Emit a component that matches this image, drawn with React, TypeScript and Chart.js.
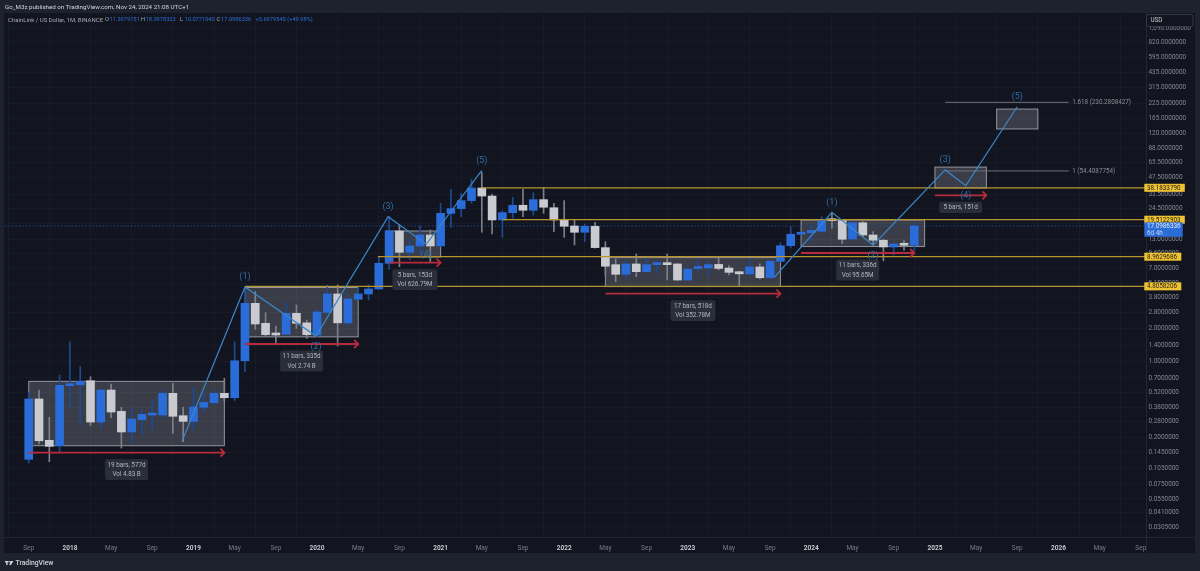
import { useEffect, useRef } from "react";
import { Chart, registerables } from "chart.js";

Chart.register(...registerables);

// monthly candles, first bar is Sep 2017
const opens = [
  0.1265, 0.45, 0.1887, 0.1684, 0.595, 0.607, 0.661, 0.277, 0.543, 0.347, 0.2247, 0.291, 0.321, 0.321, 0.507, 0.3165,
  0.281, 0.378, 0.416, 0.507, 0.462, 1.006, 3.364, 2.21, 1.765, 1.755, 2.727, 2.23, 1.728, 2.78, 4.094, 2.23, 3.66,
  4.094, 4.548, 7.8, 15.4, 9.83, 11.23, 14.15, 11.23, 22.3, 24.63, 29.15, 38, 32.1, 19.41, 22.64, 26.44, 23.8, 29.76,
  25.1, 19.41, 17.1, 14.98, 17.0, 10.85, 7.58, 6.19, 7.695, 6.54, 7.58, 7.83, 7.695, 5.49, 6.99, 7.1, 7.62, 7.06, 6.54,
  6.24, 7.23, 5.76, 8.12, 11.3, 14.37, 14.87, 15.3, 19.41, 19.12, 13.0, 18.3, 14.15, 12.67, 11.0, 11.75, 11.3979151,
];
const highs = [
  0.521, 0.543, 0.3057, 0.7446, 1.5, 0.887, 0.719, 0.55, 0.616, 0.378, 0.37, 0.362, 0.44, 0.535, 0.625, 0.378, 0.575,
  0.524, 0.543, 0.695, 1.5, 4.74, 4.296, 2.763, 2.088, 3.41, 3.247, 2.369, 2.966, 4.944, 4.944, 4.006, 4.74, 4.944,
  8.86, 20.8, 17.47, 12.93, 17.11, 15.72, 27.56, 37, 34, 45.7, 52.8, 33.5, 23.6, 31.27, 37, 34.46, 38.6, 27.56, 29.15,
  19.41, 17.84, 18.5, 12.3, 8.55, 8.25, 9.49, 8.49, 8.25, 9.49, 7.75, 7.18, 8.37, 8.25, 8.86, 7.44, 6.6, 8.49, 7.7,
  8.37, 12.05, 16.87, 15.15, 17.47, 20.8, 22.3, 19.41, 18.75, 18.75, 15.17, 12.93, 11.9, 12.55, 18.3978323,
];
const lows = [
  0.117, 0.1745, 0.1203, 0.1454, 0.3644, 0.2565, 0.2565, 0.239, 0.3035, 0.1604, 0.1745, 0.2108, 0.234, 0.295, 0.2185,
  0.183, 0.234, 0.335, 0.394, 0.425, 0.437, 0.798, 1.948, 1.668, 1.47, 1.74, 1.989, 1.611, 1.668, 2.75, 1.371, 2.088,
  3.607, 3.607, 4.5, 6.88, 7.27, 8.37, 9.29, 7.91, 11.05, 16.66, 20.8, 27.56, 14.98, 14.46, 13.48, 20.1, 20.8, 21.56,
  22.3, 15.17, 13.48, 11.47, 12.3, 10.7, 6.1, 5.3, 5.69, 5.89, 6.44, 6.39, 5.49, 5.42, 5.4, 6.39, 5.81, 6.78, 6.1, 4.8,
  5.98, 5.63, 5.69, 8.03, 10.76, 14.15, 12.3, 15.17, 16.3, 11.82, 12.93, 13.63, 11.47, 8.2, 9.3, 10.3, 10.077104,
];
const closes = [
  0.45, 0.187, 0.1663, 0.5997, 0.6206, 0.652, 0.277, 0.543, 0.342, 0.2247, 0.295, 0.3255, 0.328, 0.507, 0.3126, 0.281,
  0.38, 0.419, 0.507, 0.462, 1.006, 3.364, 2.178, 1.741, 1.728, 2.727, 2.21, 1.741, 2.804, 4.094, 2.23, 3.685, 4.094,
  4.548, 7.8, 15.4, 9.83, 11.23, 14.15, 11.23, 22.3, 24.63, 29.15, 38, 32.1, 19.41, 22.64, 26.44, 23.8, 29.76, 25.36,
  19.41, 17.0, 14.98, 17.0, 10.85, 7.33, 6.19, 7.695, 6.54, 7.58, 7.8, 7.58, 5.49, 6.88, 7.18, 7.58, 7.0, 6.45, 6.25,
  7.23, 5.76, 8.12, 11.3, 14.37, 14.87, 15.55, 19.12, 19.12, 12.93, 18.3, 14.15, 12.67, 11.0, 11.7, 11.4, 17.0986336,
];

const priceTicks = [
  1090, 820, 595, 435, 315, 225, 165, 120, 88, 65.5, 47.5, 33.5, 24.5, 18, 13, 9.6, 7, 5.1, 3.8, 2.8, 2, 1.4, 1, 0.7,
  0.52, 0.38, 0.28, 0.2, 0.145, 0.105, 0.075, 0.055, 0.041, 0.0305,
];
const timeTicks = [0, 4, 8, 12, 16, 20, 24, 28, 32, 36, 40, 44, 48, 52, 56, 60, 64, 68, 72, 76, 80, 84, 88, 92, 96, 100, 104, 108];
const timeLabels = [
  "Sep", "2018", "May", "Sep", "2019", "May", "Sep", "2020", "May", "Sep", "2021", "May", "Sep", "2022", "May", "Sep",
  "2023", "May", "Sep", "2024", "May", "Sep", "2025", "May", "Sep", "2026", "May", "Sep",
];

// elliott wave drawings (bar index, price)
const waveBarsA = [14.9, 21, 27.9, 34.9, 38.6, 44];
const wavePricesA = [0.1859, 4.74, 1.69, 20.8, 11.64, 55];
const waveBarsB = [72.4, 78, 82, 89, 91, 96];
const wavePricesB = [5.81, 22.8, 11.4, 55.6, 39.9, 210];

// yellow support / resistance levels: [from bar, price]
const levelBars = [44, 46, 33.9, 21];
const levelPrices = [38.183379, 19.5122903, 8.9629686, 4.8058206];
const levelTexts = ["38.1833790", "19.5122903", "8.9629686", "4.8058206"];

// fib lines on the right
const fibBars = [89, 101];
const fibPrices = [230.2808427, 54.4087754];
const fibTexts = ["1.618 (230.2808427)", "1 (54.4087754)"];

// [start bar, end bar, top price, bottom price]
const boxes = [
  [0, 19, 0.652, 0.1684],
  [21, 32, 4.69, 1.66],
  [34.7, 40, 15.4, 8.9],
  [56, 73, 8.8, 4.78],
  [75, 87, 19.4, 11.1],
  [88, 93, 59, 38],
  [94, 98, 200, 131.5],
];
// [start bar, end bar, price]
const arrows = [
  [0, 19, 0.1454],
  [21, 32, 1.43],
  [35, 40, 7.9],
  [56, 73, 4.12],
  [75, 86, 9.69],
  [88, 93, 32.6],
];
const arrowTexts = [
  ["19 bars, 577d", "Vol 4.83 B"],
  ["11 bars, 335d", "Vol 2.74 B"],
  ["5 bars, 153d", "Vol 626.79M"],
  ["17 bars, 518d", "Vol 352.78M"],
  ["11 bars, 336d", "Vol 95.65M"],
  ["5 bars, 151d"],
];

const UP = "#2a6dd9";
const DOWN = "#c9cbd0";
const FONT = "Roboto";

const lastPrice = closes[closes.length - 1];

function candle(i: number, a: number, b: number) {
  return { x: i, y: [Math.min(a, b), Math.max(a, b)] };
}

const upIdx = closes.map((c, i) => (c >= opens[i] ? i : -1)).filter(i => i >= 0);
const downIdx = closes.map((c, i) => (c < opens[i] ? i : -1)).filter(i => i >= 0);

const overlay = {
  id: "overlay",
  beforeDraw(chart: any) {
    const c = chart.ctx;
    c.save();
    c.fillStyle = "#1e222d";
    c.fillRect(0, 0, 1200, 571);
    c.fillStyle = "#12151f";
    c.fillRect(4, 13, 1191, 540);
    c.restore();
  },
  beforeDatasetsDraw(chart: any) {
    const { x, y } = chart.scales;
    const c = chart.ctx;
    c.save();
    boxes.forEach(b => {
      const l = x.getPixelForValue(b[0]);
      const r = x.getPixelForValue(b[1]);
      const t = y.getPixelForValue(b[2]);
      const h = y.getPixelForValue(b[3]) - t;
      c.fillStyle = "rgba(200,205,215,0.22)";
      c.fillRect(l, t, r - l, h);
      c.strokeStyle = "rgba(205,208,215,0.65)";
      c.lineWidth = 1;
      c.strokeRect(l, t, r - l, h);
    });
    c.restore();
  },
  afterDatasetsDraw(chart: any) {
    const { x, y } = chart.scales;
    const c = chart.ctx;
    c.save();

    // red range arrows with their little tags
    arrows.forEach((a, i) => {
      const l = x.getPixelForValue(a[0]);
      const r = x.getPixelForValue(a[1]);
      const py = y.getPixelForValue(a[2]);
      c.strokeStyle = "#b82a3c";
      c.lineWidth = 1.8;
      c.beginPath();
      c.moveTo(l, py);
      c.lineTo(r, py);
      c.moveTo(r - 4, py - 4);
      c.lineTo(r, py);
      c.lineTo(r - 4, py + 4);
      c.stroke();

      const lines = arrowTexts[i];
      const cx = (l + r) / 2;
      const w = lines.length > 1 && lines[1].length > 10 ? 45 : 43;
      const h = lines.length * 9.7 + 1.5;
      c.fillStyle = "#2a2e39";
      c.beginPath();
      c.roundRect(cx - w / 2, py + 6.5, w, h, 2);
      c.fill();
      c.fillStyle = "#b2b5be";
      c.font = `6.3px ${FONT}`;
      c.textAlign = "center";
      c.textBaseline = "middle";
      lines.forEach((t, k) => c.fillText(t, cx, py + 12.5 + k * 9.7));
    });

    // wave counts
    c.font = `9px ${FONT}`;
    c.fillStyle = "#2f6ea6";
    c.textAlign = "center";
    c.textBaseline = "middle";
    [[waveBarsA, wavePricesA], [waveBarsB, wavePricesB]].forEach(w => {
      for (let i = 1; i < 6; i++) {
        const dy = i % 2 ? -10 : 10.5;
        c.fillText(`(${i})`, x.getPixelForValue(w[0][i]), y.getPixelForValue(w[1][i]) + dy);
      }
    });

    // fib texts
    c.font = `6.3px ${FONT}`;
    c.fillStyle = "#8a8d96";
    c.textAlign = "left";
    fibTexts.forEach((t, i) => {
      c.fillText(t, x.getPixelForValue(fibBars[1]) + 3.5, y.getPixelForValue(fibPrices[i]));
    });
    c.restore();
  },
  afterDraw(chart: any) {
    const { y } = chart.scales;
    const c = chart.ctx;
    c.save();

    // separators of the price and time scale
    c.strokeStyle = "#232732";
    c.lineWidth = 1;
    c.beginPath();
    c.moveTo(1146.5, 13);
    c.lineTo(1146.5, 553);
    c.moveTo(4, 537.5);
    c.lineTo(1195, 537.5);
    c.stroke();

    // level tags on the price scale
    c.font = `6.3px ${FONT}`;
    c.textBaseline = "middle";
    c.textAlign = "left";
    levelPrices.forEach((p, i) => {
      const py = y.getPixelForValue(p);
      const w = levelTexts[i].length > 9 ? 40.5 : 37;
      c.fillStyle = "#eec232";
      c.fillRect(1144.3, py - 4, w, 8);
      c.fillStyle = "#26221a";
      c.fillText(levelTexts[i], 1147, py + 0.3);
    });

    // last price tag
    c.fillStyle = "#2a6dd9";
    c.fillRect(1144.3, 222.3, 38.4, 14.4);
    c.fillStyle = "#e6ecf8";
    c.fillText(lastPrice.toFixed(7), 1147, y.getPixelForValue(lastPrice) + 0.3);
    c.fillStyle = "#c5d5f0";
    c.fillText("6d 4h", 1147, 233);

    // currency button
    c.fillStyle = "#12151f";
    c.strokeStyle = "#363a45";
    c.beginPath();
    c.roundRect(1146.5, 14.5, 46.5, 12, 2);
    c.fill();
    c.stroke();
    c.fillStyle = "#c8cad0";
    c.fillText("USD", 1150.5, 20.5);

    // header
    c.fillStyle = "#d1d4dc";
    c.font = `6.2px ${FONT}`;
    c.fillText("Go_M3z published on TradingView.com, Nov 24, 2024 21:08 UTC+1", 5, 7);

    // legend row
    c.fillStyle = "#a6a9b2";
    c.font = `6px ${FONT}`;
    c.fillText("ChainLink / US Dollar, 1M, BINANCE", 8, 20);
    c.font = `5.7px ${FONT}`;
    const legend: [string, string, number][] = [
      ["O", "11.3979151", 105],
      ["H", "18.3978323", 141],
      ["L", "10.0771040", 180],
      ["C", "17.0986336", 216.5],
    ];
    legend.forEach(([k, v, px]) => {
      c.fillStyle = "#a6a9b2";
      c.fillText(k, px, 20);
      c.fillStyle = "#2a6dd9";
      c.fillText(v, px + 4.5, 20);
    });
    c.fillText("+5.6979545 (+49.98%)", 255.5, 20);

    // footer with logo
    c.fillStyle = "#d1d4dc";
    c.fillRect(5, 561, 3.6, 1.4);
    c.fillRect(6.2, 561, 1.4, 4);
    c.beginPath();
    c.arc(9.9, 561.8, 0.8, 0, Math.PI * 2);
    c.moveTo(11, 561);
    c.lineTo(13.4, 561);
    c.lineTo(11, 565);
    c.lineTo(9.2, 565);
    c.fill();
    c.font = `500 6.8px ${FONT}`;
    c.fillText("TradingView", 15.5, 563.3);
    c.restore();
  },
};

export default function App() {
  const canvasRef = useRef<HTMLCanvasElement>(null);

  useEffect(() => {
    if (!canvasRef.current) return;

    const lineStyle = { type: "line" as const, pointRadius: 0, fill: false, tension: 0, order: 0 };
    const barStyle = { type: "bar" as const, grouped: false, borderWidth: 0, barPercentage: 1, categoryPercentage: 1 };
    const lastBar = 108.5;

    const chart = new Chart(canvasRef.current, {
      type: "bar",
      data: {
        datasets: [
          {
            ...lineStyle,
            data: waveBarsA.map((b, i) => ({ x: b, y: wavePricesA[i] })),
            borderColor: "#3a86c8",
            borderWidth: 1.2,
          },
          {
            ...lineStyle,
            data: waveBarsB.map((b, i) => ({ x: b, y: wavePricesB[i] })),
            borderColor: "#3a86c8",
            borderWidth: 1.2,
          },
          ...levelPrices.map((p, i) => ({
            ...lineStyle,
            data: [{ x: levelBars[i], y: p }, { x: lastBar, y: p }],
            borderColor: "#b8942e",
            borderWidth: 1.2,
          })),
          ...fibPrices.map(p => ({
            ...lineStyle,
            data: [{ x: fibBars[0], y: p }, { x: fibBars[1], y: p }],
            borderColor: "#6e717b",
            borderWidth: 1,
          })),
          {
            ...lineStyle,
            data: [{ x: -3, y: lastPrice }, { x: lastBar, y: lastPrice }],
            borderColor: "#1f4a94",
            borderWidth: 1,
            borderDash: [1.5, 2],
            order: 3,
          },
          {
            ...barStyle,
            data: upIdx.map(i => candle(i, opens[i], closes[i])),
            backgroundColor: UP,
            maxBarThickness: 8,
            minBarLength: 2,
            order: 1,
          },
          {
            ...barStyle,
            data: downIdx.map(i => candle(i, opens[i], closes[i])),
            backgroundColor: DOWN,
            maxBarThickness: 8,
            minBarLength: 2,
            order: 1,
          },
          {
            ...barStyle,
            data: upIdx.map(i => candle(i, lows[i], highs[i])),
            backgroundColor: "#1d4a94",
            maxBarThickness: 1,
            order: 2,
          },
          {
            ...barStyle,
            data: downIdx.map(i => candle(i, lows[i], highs[i])),
            backgroundColor: "#7d8088",
            maxBarThickness: 1,
            order: 2,
          },
        ] as any,
      },
      options: {
        responsive: false,
        devicePixelRatio: 1,
        animation: false,
        events: [],
        layout: { padding: { left: 4, top: 13, right: 5, bottom: 18 } },
        plugins: { legend: { display: false }, tooltip: { enabled: false } },
        scales: {
          x: {
            type: "linear",
            offset: false,
            min: -2.4,
            max: lastBar,
            grid: { color: "#171b25", drawTicks: false },
            border: { display: false },
            afterBuildTicks: (s: any) => { s.ticks = timeTicks.map(v => ({ value: v })); },
            afterFit: (s: any) => { s.height = 16; },
            ticks: {
              autoSkip: false,
              maxRotation: 0,
              padding: 7,
              callback: (_v: any, i: number) => timeLabels[i],
              color: (ctx: any) => (/^\d/.test(timeLabels[ctx.index] || "") ? "#c4c7cf" : "#787b86"),
              font: (ctx: any) => ({
                family: FONT,
                size: 6.5,
                weight: /^\d/.test(timeLabels[ctx.index] || "") ? "bold" : "normal",
              }),
            },
          },
          y: {
            type: "logarithmic",
            position: "right",
            min: 0.0247,
            max: 1507,
            grid: { color: "#171b25", drawTicks: false },
            border: { display: false },
            afterBuildTicks: (s: any) => { s.ticks = priceTicks.map(v => ({ value: v })); },
            afterFit: (s: any) => { s.width = 49; },
            ticks: {
              autoSkip: false,
              padding: 2.5,
              color: "#868993",
              font: { family: FONT, size: 6.4 },
              callback: (v: any) => {
                const n = Number(v);
                return n >= 1000 ? "1," + (n - 1000).toFixed(7).padStart(11, "0") : n.toFixed(7);
              },
            },
          },
        },
      },
      plugins: [overlay],
    } as any);

    return () => { chart.destroy(); };
  }, []);

  return (
    <div style={{ width: 1200, height: 571, overflow: "hidden" }}>
      <style>{"body{margin:0;background:#1e222d}"}</style>
      <canvas ref={canvasRef} width={1200} height={571} style={{ display: "block", filter: "blur(0.3px)" }} />
    </div>
  );
}
